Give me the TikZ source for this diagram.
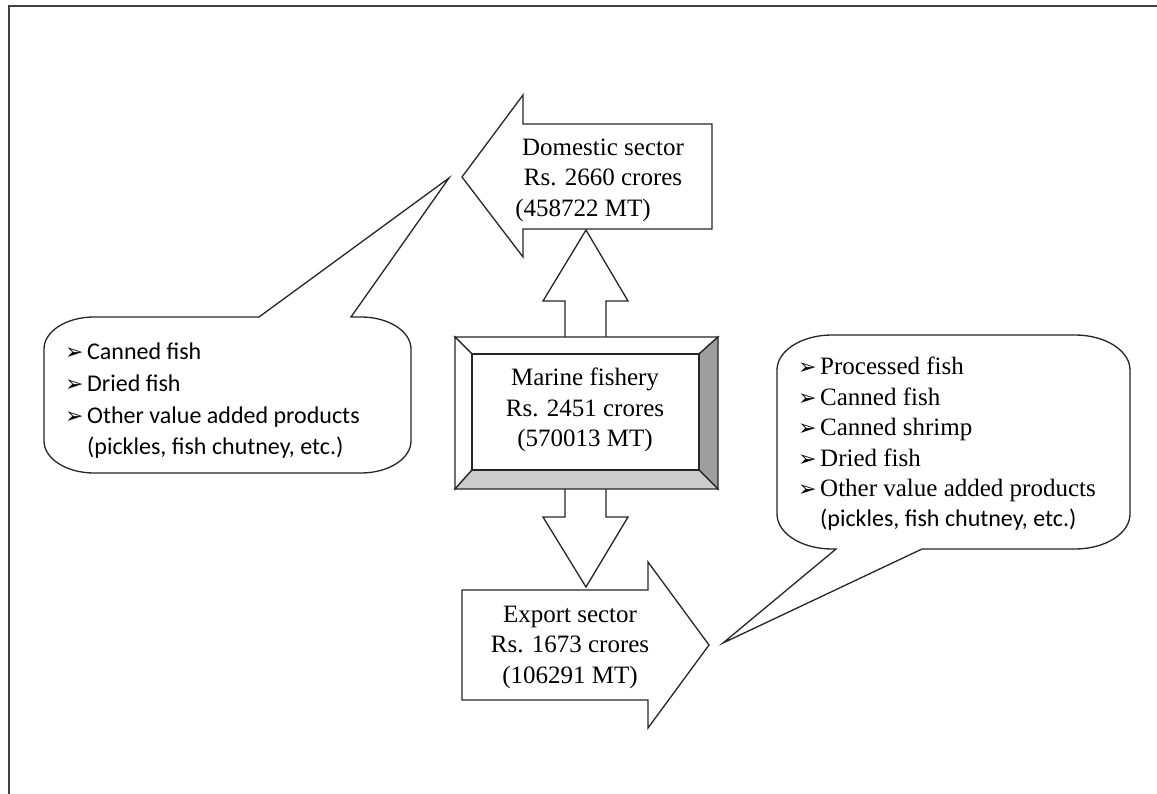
\documentclass[tikz,border=0pt]{standalone}
\usepackage{fontspec}
\setmainfont{Liberation Serif}
\newfontfamily\calfont{Carlito}
\newfontfamily\symfont{DejaVu Sans}
\newcommand{\bul}{\makebox[22pt][l]{\raisebox{0pt}{\symfont\fontsize{22}{22}\selectfont ➢}}}
\begin{document}
\begin{tikzpicture}[x=1pt,y=-1pt,
  blk/.style={draw=black!85, line width=1.3pt, fill=white, line join=miter},
  bev/.style={draw=black!85, line width=1.3pt, line join=miter},
  lbl/.style={inner sep=0pt, align=center, font=\fontsize{25}{30.5}\selectfont},
  lst/.style={inner sep=0pt, align=left, anchor=west},
  frame/.style={draw=black!75, line width=2.5pt}]
\useasboundingbox (0,0) rectangle (1157,794);
\fill[white] (0,0) rectangle (1157,794);
% frame
\draw[frame] (9,794) -- (9,6) -- (1157,6);

% left callout
\draw[blk] (259,317) -- (449,178) -- (351,317) -- (361,317)
  .. controls (388.6,317) and (411,331.3) .. (411,349) -- (411,441)
  .. controls (411,458.7) and (388.6,473) .. (361,473) -- (94,473)
  .. controls (66.4,473) and (44,458.7) .. (44,441) -- (44,349)
  .. controls (44,331.3) and (66.4,317) .. (94,317) -- cycle;

% right callout
\draw[blk] (836,549) -- (723,643) -- (922,549) -- (1075,549)
  .. controls (1105.4,549) and (1130,533.3) .. (1130,514) -- (1130,370)
  .. controls (1130,350.7) and (1105.4,335) .. (1075,335) -- (832,335)
  .. controls (801.6,335) and (777,350.7) .. (777,370) -- (777,514)
  .. controls (777,533.3) and (801.6,549) .. (832,549) -- cycle;

% up arrow
\draw[blk] (565,337) -- (565,301) -- (543,301) -- (586,230) -- (628,301) -- (606,301) -- (606,337);
% down arrow
\draw[blk] (565,489) -- (565,517) -- (543,517) -- (586,587) -- (628,517) -- (606,517) -- (606,489);

% domestic arrow
\draw[blk] (462,177) -- (523,95) -- (523,124) -- (712,124) -- (712,229) -- (523,229) -- (523,257) -- cycle;
% export arrow
\draw[blk] (462,590) -- (648,590) -- (648,562) -- (709,645) -- (648,728) -- (648,700) -- (462,700) -- cycle;

% marine bevelled box
\draw[bev, fill=white] (455,337) -- (718,337) -- (699,354) -- (472,354) -- cycle;
\draw[bev, fill=white] (455,337) -- (472,354) -- (472,470) -- (455,489) -- cycle;
\draw[bev, fill=black!38] (718,337) -- (718,489) -- (699,470) -- (699,354) -- cycle;
\draw[bev, fill=black!20] (455,489) -- (718,489) -- (699,470) -- (472,470) -- cycle;
\draw[bev, fill=white] (472,354) rectangle (699,470);

% labels
\node[lbl] (dom) at (603,180) {Domestic sector\\ Rs. 2660 crores\\ (458722 MT)\hspace*{40pt}};
\node[lbl] (mar) at (585,410) {Marine fishery\\ Rs. 2451 crores\\ (570013 MT)};
\node[lbl] (exp) at (570,647) {Export sector\\ Rs. 1673 crores\\ (106291 MT)};

\node[lst, font=\calfont\fontsize{24}{31.7}\selectfont] (llist) at (65,401)
  {\bul Canned fish\\ \bul Dried fish\\ \bul Other value added products\\ \hspace*{22pt}(pickles, fish chutney, etc.)};
\node[lst, font=\fontsize{25}{30.4}\selectfont] (rlist) at (798,444)
  {\bul Processed fish\\ \bul Canned fish\\ \bul Canned shrimp\\ \bul Dried  fish\\ \bul Other value added products\\ \hspace*{22pt}{\calfont\fontsize{24}{30.4}\selectfont (pickles, fish chutney, etc.)}};
\end{tikzpicture}
\end{document}
